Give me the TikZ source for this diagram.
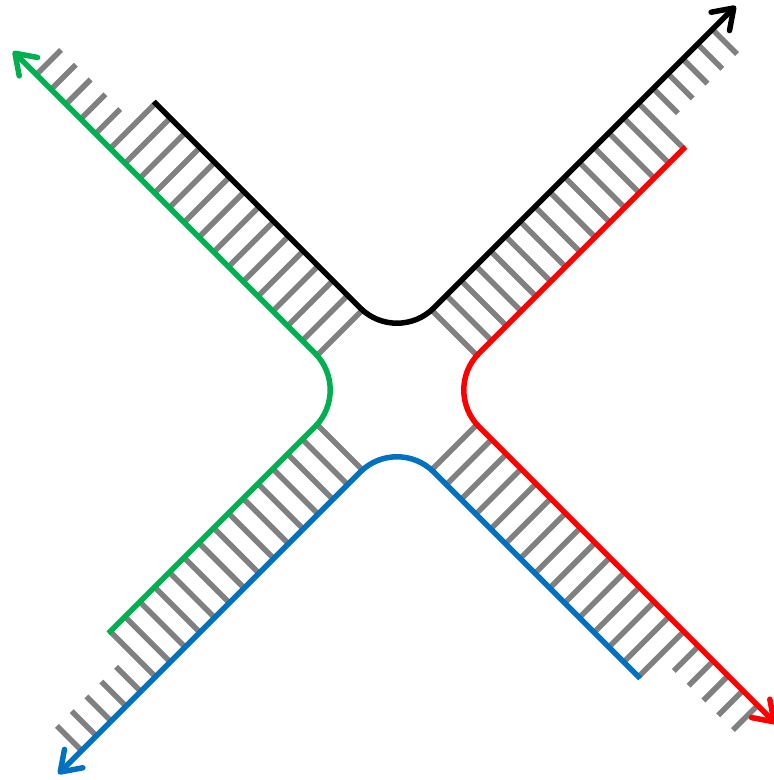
\documentclass[tikz,border=0pt]{standalone}
\usepackage{xcolor}
\usepackage{tikz}
\usetikzlibrary{arrows.meta, calc}
\definecolor{edgegreen}{RGB}{0,176,80}
\definecolor{edgeblue}{RGB}{0,112,192}
\definecolor{edgered}{RGB}{255,0,0}
\definecolor{hatchgray}{RGB}{128,128,128}

\begin{document}
\begin{tikzpicture}[
  x=1pt, y=1pt,
  hatch/.style={draw=hatchgray, line width=5.5pt},
  edge/.style={line width=5.5pt, rounded corners=52pt},
  tip/.style={-{Straight Barb[length=19pt, width=26pt, round]}}
]
\useasboundingbox (-397,-390) rectangle (377,390);

% hatching on the four arms
\foreach \ang in {135,45,-45,-135} {
  \begin{scope}[rotate=\ang]
    \foreach \k in {0,...,4}
      \draw[hatch] ({478-20.9*\k},32) -- ({478-20.9*\k},-3);
    \foreach \k in {5,...,19}
      \draw[hatch] ({478-20.9*\k},32) -- ({478-20.9*\k},-32);
  \end{scope}
}

% boundary curves
\foreach \a/\len/\col/\name in {90/511/black/top, 0/504/edgered/right, -90/511/edgeblue/bottom, 180/511/edgegreen/left} {
  \coordinate (\name-start) at ($(\a+45:376)+(\a-45:32)$);
  \coordinate (\name-corner) at (\a:45.25);
  \coordinate (\name-end) at ($(\a-45:\len)+(\a+45:32)$);
  \draw[edge, tip, draw=\col] (\name-start) -- (\name-corner) -- (\name-end);
}

\end{tikzpicture}
\end{document}
